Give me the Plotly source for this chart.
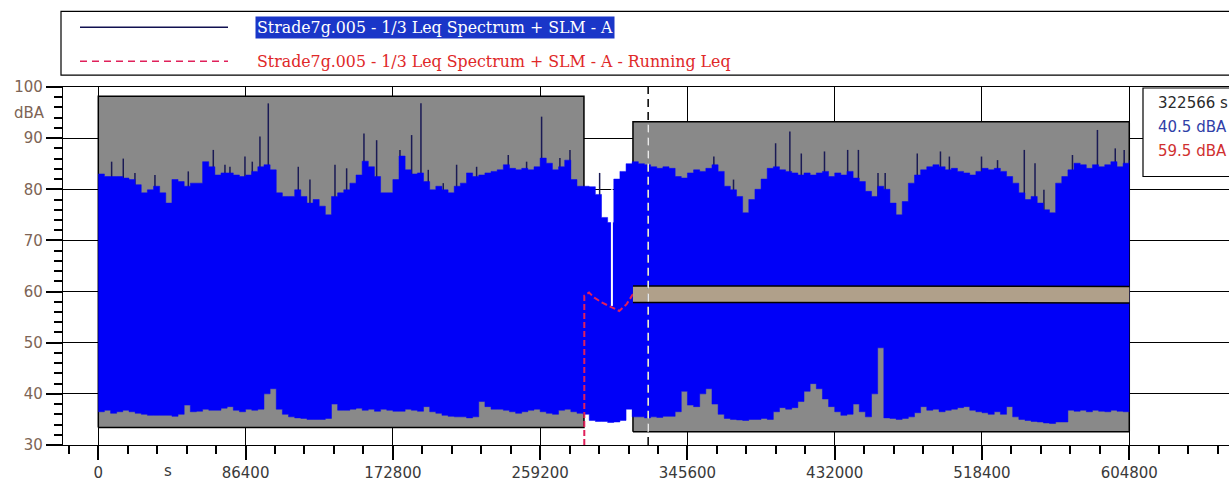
import numpy as np
import plotly.graph_objects as go

# ---------------- data ----------------
hours = list(range(0, 169))  # one value per hour, 0 .. 168 h (604800 s)

upper_db = [
    83.0, 82.5, 82.5, 82.5, 82.2, 81.9, 80.9, 79.3, 79.9, 80.6,
    79.3, 77.3, 81.9, 81.5, 80.6, 81.2, 81.2, 85.4, 84.4, 82.8,
    83.2, 83.2, 82.8, 82.5, 82.8, 83.5, 84.4, 84.8, 83.8, 79.3,
    78.6, 78.6, 79.9, 78.6, 77.3, 78.0, 76.7, 75.0, 78.6, 79.3,
    79.9, 81.2, 82.8, 85.5, 84.4, 82.5, 79.3, 79.3, 81.9, 86.5,
    83.8, 83.0, 83.2, 81.5, 79.9, 80.6, 79.9, 79.3, 80.6, 81.2,
    83.2, 82.5, 82.8, 83.2, 83.5, 83.8, 84.8, 84.1, 83.8, 84.1,
    83.8, 84.4, 86.1, 85.1, 83.8, 84.4, 85.7, 81.9, 80.6, 80.6,
    80.5, 79.0, 74.5, 73.5, 82.0, 83.5, 85.0,
    85.4, 85.0, 84.8, 84.4, 84.1, 84.4, 84.1, 82.5, 82.2, 83.2,
    83.8, 83.5, 84.1, 84.8, 83.5, 80.6, 79.9, 78.6, 75.4, 78.0,
    80.0, 82.0, 84.1, 84.4, 83.8, 83.5, 83.2, 82.8, 83.2, 82.8,
    83.2, 83.5, 82.5, 83.2, 82.8, 83.5, 82.2, 81.5, 79.6, 78.6,
    80.6, 80.0, 77.3, 75.0, 77.6, 81.2, 82.8, 83.8, 84.4, 84.8,
    84.4, 83.8, 84.1, 83.5, 83.2, 82.8, 83.5, 84.1, 83.8, 84.1,
    83.5, 82.5, 81.2, 79.3, 78.0, 78.6, 77.3, 76.0, 75.4, 81.2,
    82.5, 83.8, 85.1, 84.8, 84.1, 84.8, 84.4, 84.8, 85.4, 84.4,
    85.1, 85.7,
]

lower_db = [
    36.5, 36.8, 36.2, 36.5, 36.8, 36.5, 36.2, 36.0, 35.8, 35.8,
    35.8, 35.8, 35.6, 36.0, 37.8, 36.5, 36.6, 37.0, 36.8, 36.8,
    37.2, 37.5, 36.8, 36.5, 37.0, 36.8, 37.0, 40.0, 41.0, 37.0,
    36.0, 35.5, 35.3, 35.2, 35.0, 35.0, 35.0, 35.2, 38.0, 36.8,
    36.8, 37.0, 37.2, 36.8, 37.0, 36.6, 37.0, 36.8, 36.6, 36.6,
    37.0, 36.8, 36.6, 37.5, 36.5, 36.2, 35.8, 35.6, 35.5, 35.5,
    35.3, 35.5, 38.5, 37.5, 37.0, 37.0, 36.8, 36.5, 36.2, 36.5,
    36.8, 37.0, 36.5, 36.2, 36.0, 36.8, 37.0, 36.5, 36.2, 36.0,
    34.8, 34.6, 34.6, 34.4, 34.5, 34.8, 37.0,
    35.5, 35.5, 35.3, 35.5, 35.4, 35.6, 35.6, 36.5, 40.5, 37.8,
    37.5, 40.0, 41.0, 38.0, 36.0, 35.2, 35.0, 34.9, 34.8, 35.0,
    35.0, 35.2, 35.0, 36.5, 37.3, 37.0, 37.3, 38.5, 40.5, 42.0,
    41.0, 39.0, 37.5, 36.5, 35.8, 36.0, 38.0, 36.5, 35.5, 40.0,
    49.0, 35.3, 35.2, 35.0, 35.2, 35.5, 36.3, 37.5, 36.8, 37.0,
    36.5, 36.8, 37.0, 37.3, 37.5, 36.8, 36.5, 36.3, 36.0, 36.5,
    36.0, 37.5, 35.5, 35.0, 34.8, 34.6, 34.5, 34.3, 34.2, 34.5,
    34.5, 36.8, 36.6, 36.8, 36.5, 36.8, 36.6, 36.5, 36.8, 36.6,
    36.5, 36.5,
]

# short peaks sticking out above the envelope (time s, level dBA)
spike_s = [7820, 14660, 21500, 33240, 52800, 67470, 74310, 77240, 86040, 90340,
           94830, 99730, 117320, 124160, 138850, 145690, 155850, 163280, 176970,
           183810, 189280, 193580, 202380, 210200, 221930, 240500, 251250, 260050,
           270800, 276700, 294100, 361100, 372640, 397330, 405700, 412400, 426000,
           439600, 445900, 457400, 461600, 480430, 494030, 499270, 518110, 527520,
           543220, 549500, 554730, 571470, 586120, 596580, 601810]
spike_db = [85.4, 86.0, 83.2, 82.8, 83.5, 87.7, 84.8, 84.4, 86.4, 85.4,
            90.3, 96.8, 84.4, 81.9, 84.8, 84.1, 90.9, 89.6, 87.7,
            90.6, 96.8, 83.8, 81.2, 84.8, 84.4, 86.7, 85.4, 94.2,
            86.1, 87.7, 83.2, 86.4, 81.9, 89.0, 91.3, 87.0, 87.4,
            87.7, 87.7, 83.2, 83.2, 87.0, 87.4, 86.4, 86.4, 85.7,
            87.7, 85.1, 79.9, 86.7, 91.6, 88.0, 87.7]

# running Leq (time s, dBA)
leq_s = [285100, 285100, 287900, 291000, 295200, 301500, 305640, 309840, 313650, 322566, 604800]
leq_db = [30.0, 59.2, 59.8, 58.8, 57.9, 56.8, 56.2, 57.5, 59.5, 59.5, 59.4]

# data gap (time s, from dBA, to dBA)
gap_s = [301300]
gap_lo = [57.2]
gap_hi = [80.0]

# marked (selected) periods
sel_start = [0, 313650]
sel_end = [284900, 604800]
sel_bottom = [33.4, 32.6]
sel_top = [98.2, 93.2]

# cursor read-out
cursor_s = 322566
cursor_level = 40.5
cursor_leq = 59.5

x_ticks = [0, 86400, 172800, 259200, 345600, 432000, 518400, 604800]
y_ticks = [30, 40, 50, 60, 70, 80, 90, 100]

series_name = "Strade7g.005 - 1/3 Leq Spectrum + SLM - A"
leq_name = "Strade7g.005 - 1/3 Leq Spectrum + SLM - A - Running Leq"

# ---------------- figure ----------------
W, H = 1229, 482
ML, MR, MT, MB = 63, 0, 87, 35
PW, PH = W - ML - MR, H - MT - MB


def px(xp):
    return (xp - ML) / PW


def py(yp):
    return (H - MB - yp) / PH


t = np.array(hours) * 3600.0
BLUE = "#0000f8"
RED = "#e0205a"

fig = go.Figure()

# selected periods (hatched)
for s0, s1, b, tp in zip(sel_start, sel_end, sel_bottom, sel_top):
    fig.add_trace(go.Scatter(
        x=[s0, s1, s1, s0, s0], y=[b, b, tp, tp, b], mode="lines",
        fill="toself", fillcolor="#8a8a8a",
        fillpattern=dict(shape=".", fgcolor="#101010", bgcolor="#a6a6a6", size=2, solidity=0.45),
        line=dict(color="black", width=1.5), hoverinfo="skip", showlegend=False))

# spikes
sx, sy = [], []
for s, v in zip(spike_s, spike_db):
    sx += [s, s, None]
    sy += [60, v, None]
fig.add_trace(go.Scatter(x=sx, y=sy, mode="lines", line=dict(color="#1a1a55", width=1.5),
                         hoverinfo="skip", showlegend=False))

# level envelope
fig.add_trace(go.Scatter(x=t, y=lower_db, mode="lines", line=dict(color=BLUE, width=0.5, shape="hv"),
                         hoverinfo="skip", showlegend=False))
fig.add_trace(go.Scatter(x=t, y=upper_db, mode="lines", fill="tonexty", fillcolor=BLUE,
                         line=dict(color=BLUE, width=0.5, shape="hv"), name=series_name, showlegend=False))

# data gap
gx, gy = [], []
for s, a, b in zip(gap_s, gap_lo, gap_hi):
    gx += [s, s, None]
    gy += [a, b, None]
fig.add_trace(go.Scatter(x=gx, y=gy, mode="lines", line=dict(color="white", width=2),
                         hoverinfo="skip", showlegend=False))

# running Leq: outside selection dashed red, inside selection highlighted band
ls = np.array(leq_s, dtype=float)
ld = np.array(leq_db)
out_mask = ls <= sel_start[1]
in_mask = ls >= sel_start[1]
fig.add_trace(go.Scatter(x=ls[out_mask], y=ld[out_mask], mode="lines",
                         line=dict(color=RED, width=2, dash="6px,3px"), name=leq_name, showlegend=False))
fig.add_trace(go.Scatter(x=ls[in_mask], y=ld[in_mask], mode="lines",
                         line=dict(color="black", width=18), hoverinfo="skip", showlegend=False))
fig.add_trace(go.Scatter(x=ls[in_mask], y=ld[in_mask], mode="lines",
                         line=dict(color="#b0a08a", width=15), hoverinfo="skip", showlegend=False))

shapes = []
# cursor
shapes.append(dict(type="line", xref="x", yref="paper", x0=cursor_s, x1=cursor_s, y0=0, y1=1,
                   line=dict(color="black", width=1.5, dash="8px,5px"), layer="above"))
shapes.append(dict(type="line", xref="x", yref="y", x0=cursor_s, x1=cursor_s,
                   y0=sel_bottom[1], y1=sel_top[1],
                   line=dict(color="white", width=1.5, dash="8px,5px"), layer="above"))
# legend frame
shapes.append(dict(type="rect", xref="paper", yref="paper", x0=px(61), x1=px(1240), y0=py(75), y1=py(11),
                   line=dict(color="black", width=1.2), fillcolor="rgba(0,0,0,0)", layer="above"))
shapes.append(dict(type="line", xref="paper", yref="paper", x0=px(80), x1=px(228), y0=py(27), y1=py(27),
                   line=dict(color="#101050", width=1.5)))
shapes.append(dict(type="line", xref="paper", yref="paper", x0=px(80), x1=px(228), y0=py(61), y1=py(61),
                   line=dict(color=RED, width=1.5, dash="7px,5px")))
# read-out box
shapes.append(dict(type="rect", xref="paper", yref="paper", x0=px(1143), x1=px(1240), y0=py(177), y1=py(88),
                   line=dict(color="black", width=1.2), fillcolor="white", layer="above"))

LEG_FONT = "DejaVu Serif"
annotations = [
    dict(text=series_name, xref="paper", yref="paper", x=px(255), y=py(27), xanchor="left", yanchor="middle",
         showarrow=False, font=dict(family=LEG_FONT, size=15.8, color="white"), bgcolor="#1a36c8", borderpad=1),
    dict(text=leq_name, xref="paper", yref="paper", x=px(255), y=py(61), xanchor="left", yanchor="middle",
         showarrow=False, font=dict(family=LEG_FONT, size=15.8, color="#e02828")),
    dict(text="dBA", xref="paper", yref="paper", x=px(29), y=py(113), xanchor="center", yanchor="middle",
         showarrow=False, font=dict(family="DejaVu Sans", size=15, color="#7d6455")),
    dict(text="s", xref="paper", yref="paper", x=px(168), y=py(473), xanchor="center", yanchor="middle",
         showarrow=False, font=dict(family="DejaVu Sans", size=15, color="#3a3a3a")),
    dict(text=f"{cursor_s} s", xref="paper", yref="paper", x=px(1156), y=py(103), xanchor="left", yanchor="middle",
         showarrow=False, font=dict(family="DejaVu Sans", size=15, color="#2a2a2a")),
    dict(text=f"{cursor_level} dBA", xref="paper", yref="paper", x=px(1156), y=py(127), xanchor="left",
         yanchor="middle", showarrow=False, font=dict(family="DejaVu Sans", size=15, color="#3040a8")),
    dict(text=f"{cursor_leq} dBA", xref="paper", yref="paper", x=px(1156), y=py(151), xanchor="left",
         yanchor="middle", showarrow=False, font=dict(family="DejaVu Sans", size=15, color="#d03030")),
]

x_range = [-20700, 663300]

fig.update_layout(
    width=W, height=H,
    margin=dict(l=ML, r=MR, t=MT, b=MB, pad=0),
    plot_bgcolor="white", paper_bgcolor="white",
    shapes=shapes, annotations=annotations,
    showlegend=False,
    xaxis=dict(range=x_range, tickvals=x_ticks, ticktext=[str(v) for v in x_ticks],
               showgrid=True, gridcolor="black", gridwidth=1, zeroline=False,
               showline=True, linecolor="black", linewidth=1.2, mirror=True,
               ticks="outside", ticklen=14, tickwidth=1.5, tickcolor="black",
               tickfont=dict(family="DejaVu Sans", size=15, color="#3a3a3a"),
               minor=dict(tick0=0, dtick=17280, ticks="outside", ticklen=8, tickwidth=1.5,
                          tickcolor="black", showgrid=False)),
    yaxis=dict(range=[30, 100], tickvals=y_ticks, ticktext=[str(v) for v in y_ticks],
               showgrid=True, gridcolor="black", gridwidth=1, zeroline=False,
               showline=True, linecolor="black", linewidth=1.2,
               ticks="outside", ticklen=16, tickwidth=1.5, tickcolor="black",
               tickfont=dict(family="DejaVu Sans", size=15, color="#7d6455"),
               minor=dict(tick0=30, dtick=2, ticks="outside", ticklen=8, tickwidth=1.5,
                          tickcolor="black", showgrid=False)),
)

fig.write_html("out.html")
